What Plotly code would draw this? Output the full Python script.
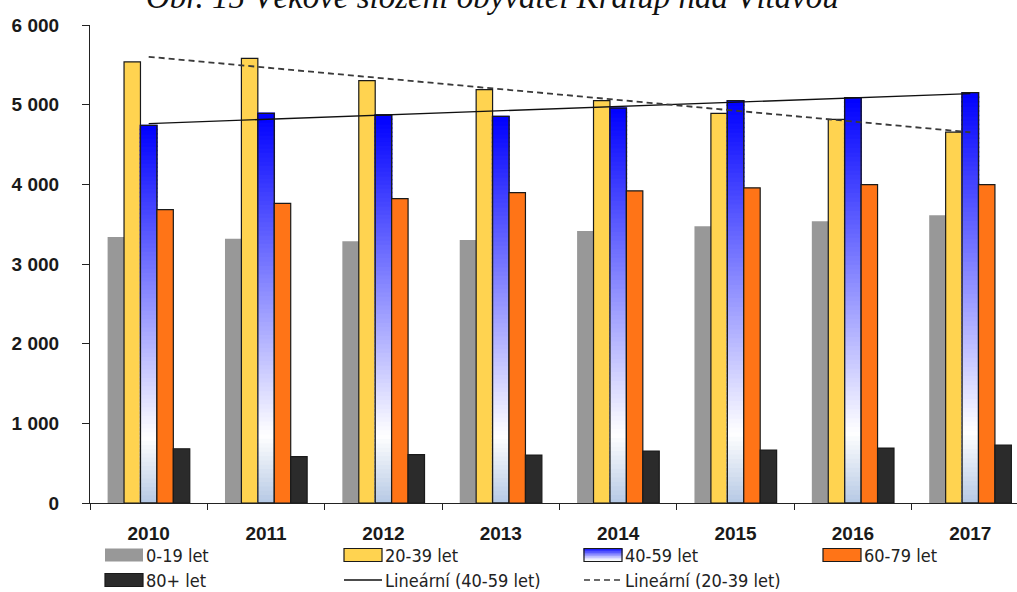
import numpy as np
import plotly.graph_objects as go

# Population by age group, Kralupy nad Vltavou
years = ["2010", "2011", "2012", "2013", "2014", "2015", "2016", "2017"]
age_0_19 = [3340, 3318, 3285, 3302, 3415, 3473, 3536, 3611]
age_20_39 = [5537, 5580, 5302, 5188, 5050, 4891, 4815, 4655]
age_40_59 = [4740, 4891, 4870, 4853, 4957, 5050, 5088, 5151]
age_60_79 = [3683, 3762, 3821, 3897, 3918, 3956, 3997, 3997]
age_80_plus = [681, 581, 606, 602, 653, 665, 690, 728]

series_names = ["0-19 let", "20-39 let", "40-59 let", "60-79 let", "80+ let"]
trend_names = ["Lineární (40-59 let)", "Lineární (20-39 let)"]
title_text = "Obr. 15 Věkové složení obyvatel Kralup nad Vltavou"

GRAY = "#989898"
YELLOW = "#FFD350"
ORANGE = "#FF7417"
DARK = "#2B2B2B"
EDGE = "#1A1A1A"

W, H = 1017, 592
ML, MR, MT, MB = 90, 0, 25, 89
PW, PH = W - ML - MR, H - MT - MB


def px_x(px):
    return (px - ML) / PW


def px_y(py):
    return (H - MB - py) / PH


# vertical fill of the 40-59 bars: blue at the top, white, pale blue at the base
GRAD_STOPS = [(0.0, (0, 0, 255)), (0.825, (255, 255, 255)), (1.0, (181, 200, 228))]


def grad_color(t):
    for (t0, c0), (t1, c1) in zip(GRAD_STOPS[:-1], GRAD_STOPS[1:]):
        if t <= t1:
            f = (t - t0) / (t1 - t0)
            c = [round(a + (b - a) * f) for a, b in zip(c0, c1)]
            return f"rgb({c[0]},{c[1]},{c[2]})"
    c = GRAD_STOPS[-1][1]
    return f"rgb({c[0]},{c[1]},{c[2]})"


fig = go.Figure()

fig.add_trace(go.Bar(x=years, y=age_0_19, name=series_names[0], offsetgroup="g1",
                     marker=dict(color=GRAY, line=dict(width=0))))
fig.add_trace(go.Bar(x=years, y=age_20_39, name=series_names[1], offsetgroup="g2",
                     marker=dict(color=YELLOW, line=dict(color=EDGE, width=1.2))))

# 40-59: bars built from stacked slices so each bar carries the gradient;
# each slice is stroked in its own colour so neighbouring slices close up
N_SLICES = 90
blue = np.array(age_40_59, dtype=float)
for k in range(N_SLICES):
    t_from_top = 1 - (k + 0.5) / N_SLICES
    col = grad_color(t_from_top)
    fig.add_trace(go.Bar(x=years, y=blue / N_SLICES, base=blue * k / N_SLICES,
                         offsetgroup="g3", showlegend=False, hoverinfo="skip",
                         marker=dict(color=col, line=dict(color=col, width=1.5))))
fig.add_trace(go.Bar(x=years, y=age_40_59, name=series_names[2], offsetgroup="g3",
                     marker=dict(color="rgba(0,0,0,0)", line=dict(color=EDGE, width=1.3))))

fig.add_trace(go.Bar(x=years, y=age_60_79, name=series_names[3], offsetgroup="g4",
                     marker=dict(color=ORANGE, line=dict(color=EDGE, width=1.2))))
fig.add_trace(go.Bar(x=years, y=age_80_plus, name=series_names[4], offsetgroup="g5",
                     marker=dict(color=DARK, line=dict(color=EDGE, width=1.2))))

# linear trends
xi = np.arange(len(years))
fit_40 = np.polyval(np.polyfit(xi, age_40_59, 1), xi)
fit_20 = np.polyval(np.polyfit(xi, age_20_39, 1), xi)
fig.add_trace(go.Scatter(x=years, y=fit_40, mode="lines", name=trend_names[0],
                         line=dict(color="#111111", width=1.3)))
fig.add_trace(go.Scatter(x=years, y=fit_20, mode="lines", name=trend_names[1],
                         line=dict(color="#3a3a3a", width=1.8, dash="6px,4px")))

tick_font = dict(family="Liberation Sans, Arial, sans-serif", size=19, color="#1a1a1a", weight="bold")

fig.update_layout(
    width=W, height=H, autosize=False,
    margin=dict(l=ML, r=MR, t=MT, b=MB),
    paper_bgcolor="white", plot_bgcolor="white",
    barmode="group", bargap=0.30, bargroupgap=0.0,
    showlegend=False,
    separators=". ",
    xaxis=dict(type="category", range=[-0.5, 7.398], showline=True, linecolor="#222222",
               linewidth=1.2, ticks="outside", tickson="boundaries", ticklen=6,
               tickcolor="#222222", showgrid=False, tickfont=tick_font, ticklabelstandoff=13),
    yaxis=dict(range=[0, 6000], dtick=1000, tickformat=",d", showline=True,
               linecolor="#222222", linewidth=1.2, ticks="outside", ticklen=7,
               tickcolor="#222222", showgrid=False, zeroline=False, tickfont=tick_font,
               ticklabelstandoff=19),
)

shapes = []
annotations = []

# title, partly cut off by the top edge of the page
annotations.append(dict(text=title_text, xref="paper", yref="paper", x=px_x(492), y=px_y(17),
                        xanchor="center", yanchor="bottom", showarrow=False,
                        font=dict(family="Liberation Serif, Times New Roman, serif", size=33,
                                  style="italic", color="#111111")))

# legend
col_x = [105, 344, 584, 823]
row_y = [555, 580]
SW, SH = 38, 13
legend_font = dict(family="Liberation Sans Narrow, DejaVu Sans Condensed, Liberation Sans, sans-serif",
                   size=18, color="#222222")


def box(x0, yc, fill, edge):
    shapes.append(dict(type="rect", xref="paper", yref="paper",
                       x0=px_x(x0), x1=px_x(x0 + SW), y0=px_y(yc + SH / 2), y1=px_y(yc - SH / 2),
                       fillcolor=fill, line=dict(color=edge, width=1.2 if edge else 0)))


def label(x0, yc, text):
    annotations.append(dict(text=text, xref="paper", yref="paper", x=px_x(x0 + SW + 1), y=px_y(yc),
                            xanchor="left", yanchor="middle", showarrow=False, font=legend_font))


box(col_x[0], row_y[0], GRAY, None)
label(col_x[0], row_y[0], series_names[0])
box(col_x[1], row_y[0], YELLOW, EDGE)
label(col_x[1], row_y[0], series_names[1])
n_strip = 8
for s in range(n_strip):
    y_top = row_y[0] - SH / 2 + s * SH / n_strip
    col = grad_color(0.9 * (s + 0.5) / n_strip)
    shapes.append(dict(type="rect", xref="paper", yref="paper",
                       x0=px_x(col_x[2]), x1=px_x(col_x[2] + SW),
                       y0=px_y(y_top + SH / n_strip), y1=px_y(y_top),
                       fillcolor=col, line=dict(color=col, width=1)))
box(col_x[2], row_y[0], "rgba(0,0,0,0)", EDGE)
label(col_x[2], row_y[0], series_names[2])
box(col_x[3], row_y[0], ORANGE, EDGE)
label(col_x[3], row_y[0], series_names[3])

box(col_x[0], row_y[1], DARK, EDGE)
label(col_x[0], row_y[1], series_names[4])
shapes.append(dict(type="line", xref="paper", yref="paper", x0=px_x(col_x[1]), x1=px_x(col_x[1] + SW),
                   y0=px_y(row_y[1]), y1=px_y(row_y[1]), line=dict(color="#111111", width=1.3)))
label(col_x[1], row_y[1], trend_names[0])
shapes.append(dict(type="line", xref="paper", yref="paper", x0=px_x(col_x[2]), x1=px_x(col_x[2] + SW),
                   y0=px_y(row_y[1]), y1=px_y(row_y[1]),
                   line=dict(color="#3a3a3a", width=1.6, dash="6px,4px")))
label(col_x[2], row_y[1], trend_names[1])

fig.update_layout(shapes=shapes, annotations=annotations)

fig.write_html("out.html")
